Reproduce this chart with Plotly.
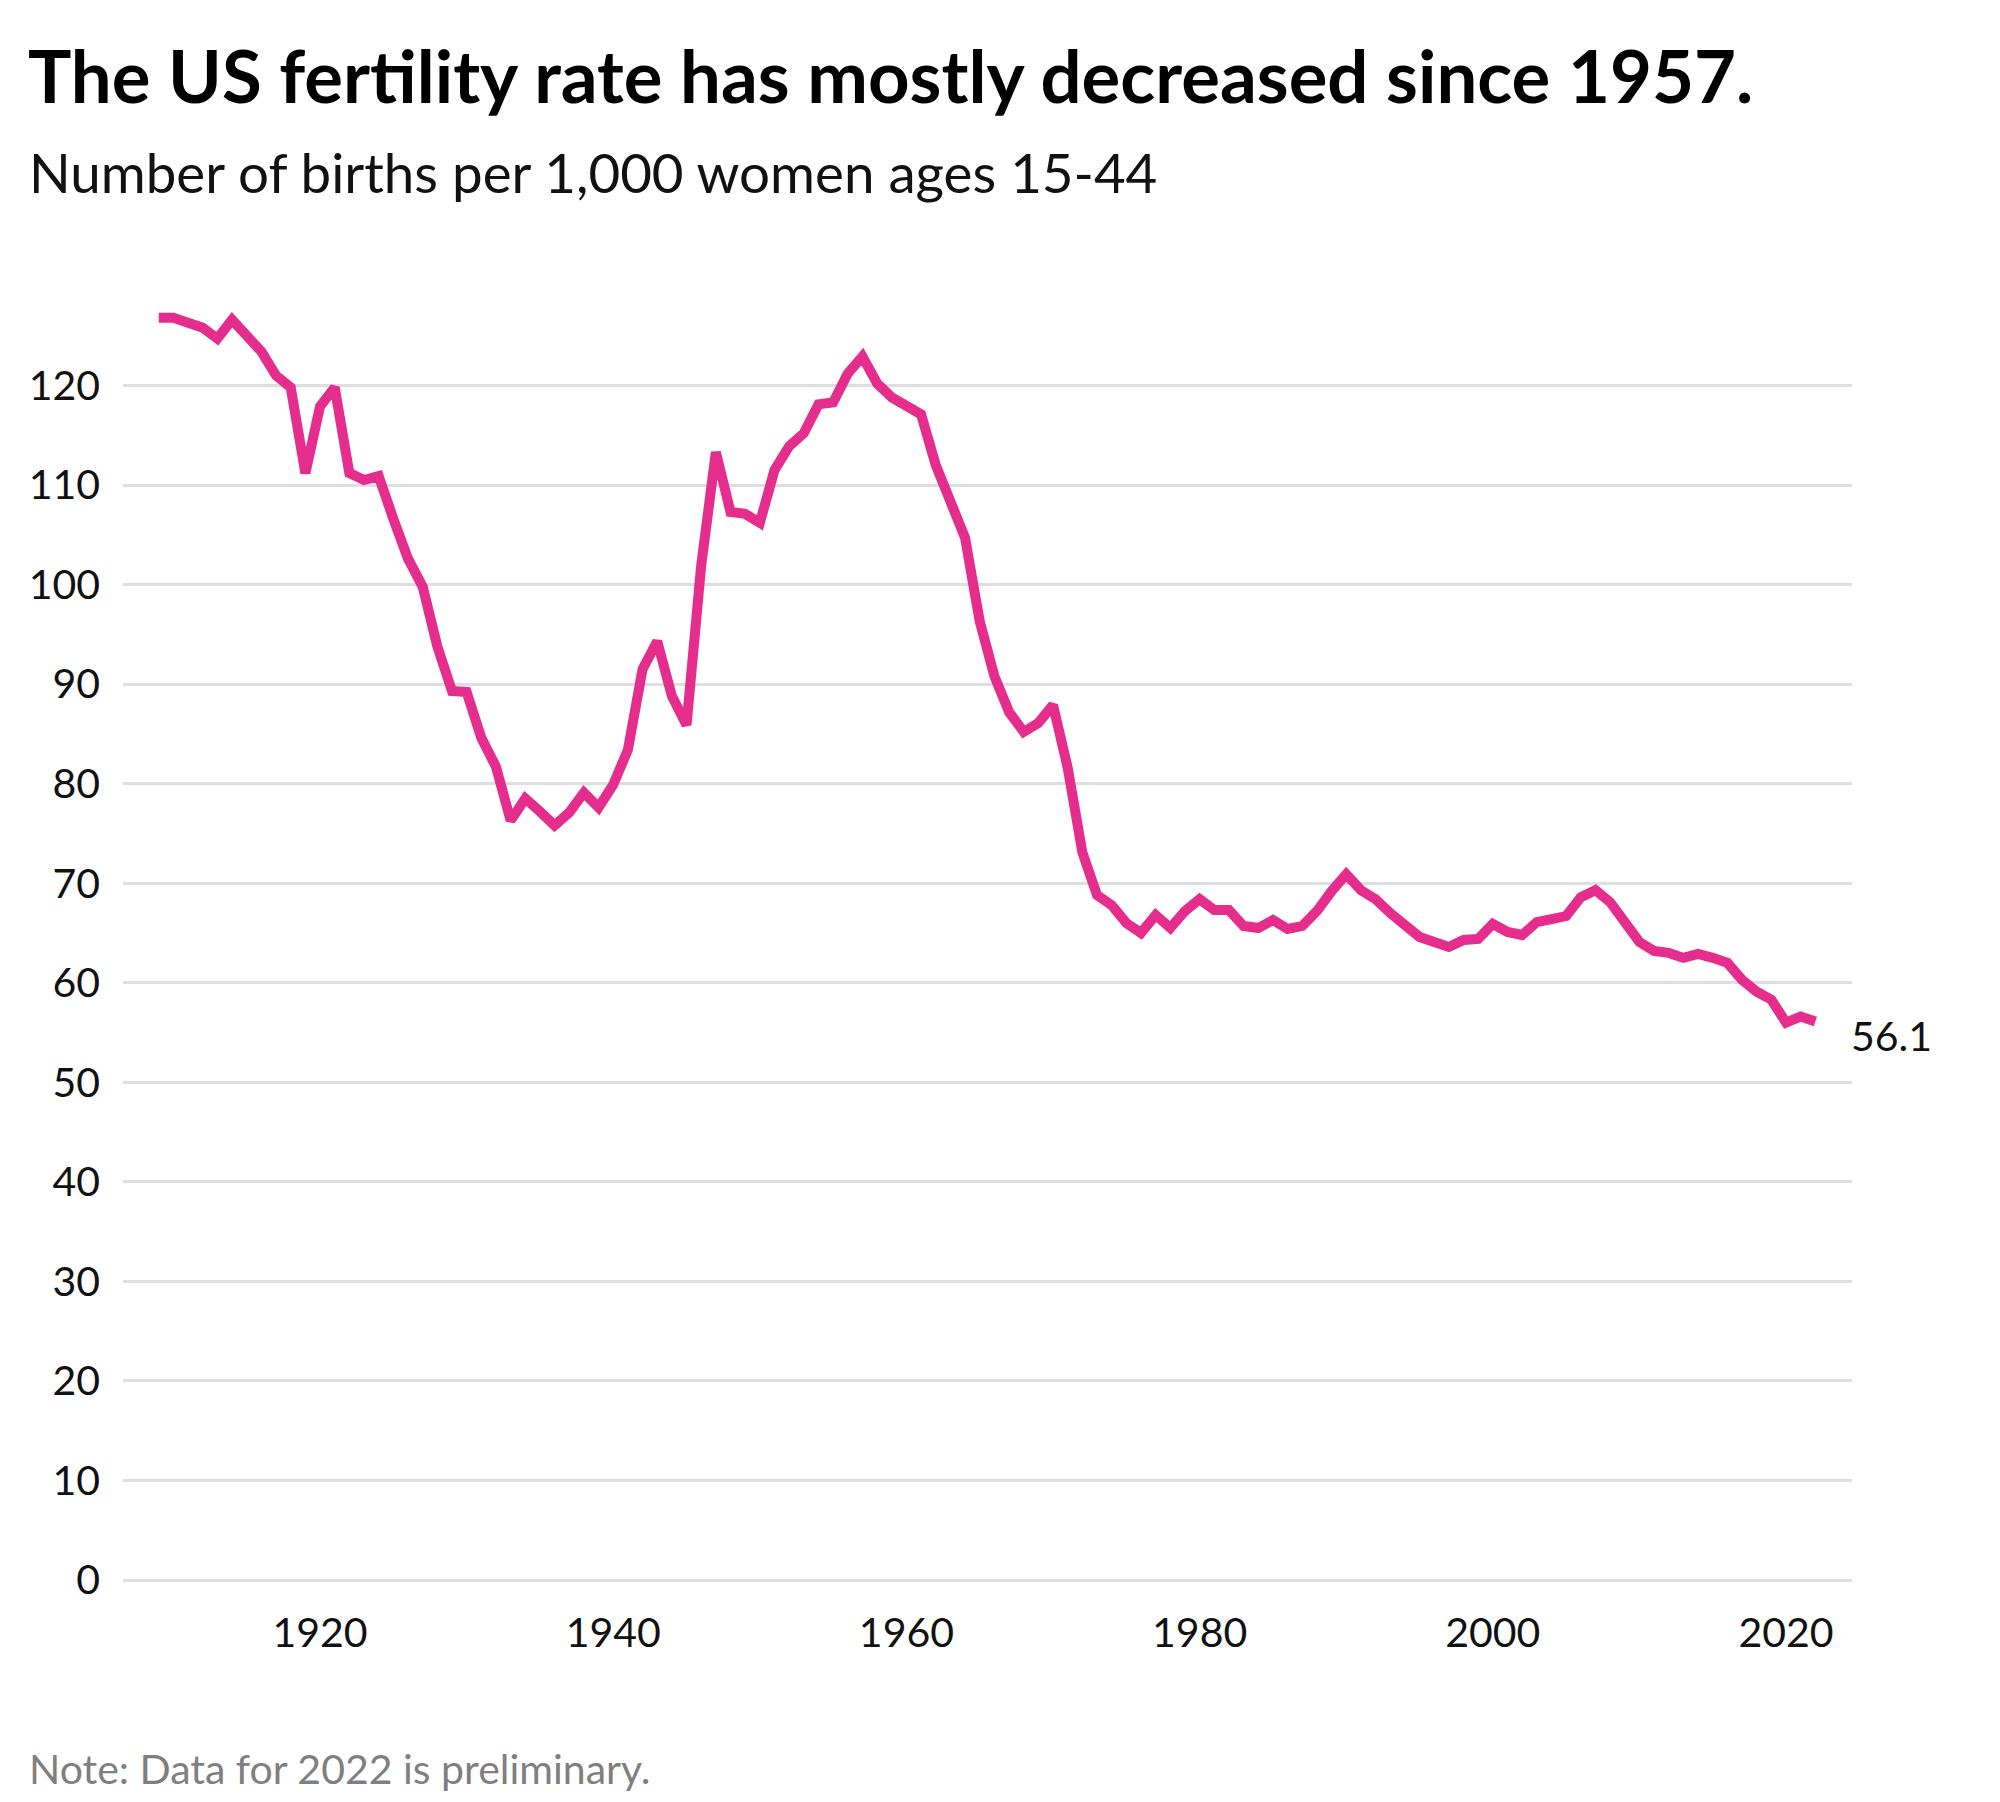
import plotly.graph_objects as go

years = list(range(1909, 2023))
fertility_rate = [
    126.8, 126.8, 126.3, 125.8, 124.7, 126.6, 125.0, 123.4, 121.0, 119.8,  # 1909-1918
    111.2, 117.9, 119.8, 111.2, 110.5, 110.9, 106.6, 102.6, 99.8, 93.8,    # 1919-1928
    89.3, 89.2, 84.6, 81.7, 76.3, 78.5, 77.2, 75.8, 77.1, 79.1,            # 1929-1938
    77.6, 79.9, 83.4, 91.5, 94.3, 88.8, 85.9, 101.9, 113.3, 107.3,         # 1939-1948
    107.1, 106.2, 111.5, 113.9, 115.2, 118.1, 118.3, 121.2, 122.9, 120.2,  # 1949-1958
    118.8, 118.0, 117.1, 112.0, 108.3, 104.7, 96.3, 90.8, 87.2, 85.2,      # 1959-1968
    86.1, 87.9, 81.6, 73.1, 68.8, 67.8, 66.0, 65.0, 66.8, 65.5,            # 1969-1978
    67.2, 68.4, 67.3, 67.3, 65.7, 65.5, 66.3, 65.4, 65.7, 67.2,            # 1979-1988
    69.2, 70.9, 69.3, 68.4, 67.0, 65.9, 64.6, 64.1, 63.6, 64.3,            # 1989-1998
    64.4, 65.9, 65.1, 64.8, 66.1, 66.4, 66.7, 68.6, 69.3, 68.1,            # 1999-2008
    66.2, 64.1, 63.2, 63.0, 62.5, 62.9, 62.5, 62.0, 60.3, 59.1,            # 2009-2018
    58.3, 56.0, 56.6, 56.1,                                                # 2019-2022
]
x_ticks = [1920, 1940, 1960, 1980, 2000, 2020]
y_ticks = list(range(0, 130, 10))

title_text = "The US fertility rate has mostly decreased since 1957."
subtitle_text = "Number of births per 1,000 women ages 15-44"
note_text = "Note: Data for 2022 is preliminary."
end_label = f"{fertility_rate[-1]:.1f}"

W, H = 2000, 1802
ML, MR, MT, MB = 123, 148, 266, 202
PH = H - MT - MB
PW = W - ML - MR


def py(pix):
    return (H - MB - pix) / PH


def px(pix):
    return (pix - ML) / PW


FONT = "Lato"
LINE_COLOR = "#E42D8C"

fig = go.Figure()
fig.add_trace(go.Scatter(
    x=years, y=fertility_rate, mode="lines",
    line=dict(color=LINE_COLOR, width=10),
    hoverinfo="skip", showlegend=False,
))

fig.update_layout(
    width=W, height=H,
    margin=dict(l=ML, r=MR, t=MT, b=MB, autoexpand=False),
    paper_bgcolor="white", plot_bgcolor="white",
    font=dict(family=FONT, color="#111111", size=41),
    title=dict(
        text=f"<b>{title_text}</b>",
        font=dict(family=FONT, size=72.5, color="#000000"),
        x=28 / W, xref="container", xanchor="left",
        y=1 - 78 / H, yref="container", yanchor="middle",
    ),
    xaxis=dict(
        range=[1906.56, 2024.5], tickvals=x_ticks, ticktext=[str(v) for v in x_ticks],
        showgrid=False, zeroline=False, showline=False, ticks="",
        tickfont=dict(family=FONT, size=41, color="#111111"),
        ticklabelstandoff=5,
    ),
    yaxis=dict(
        range=[-2, 132], tickvals=y_ticks, ticktext=[str(v) for v in y_ticks],
        showgrid=True, gridcolor="#DEDEDE", gridwidth=3,
        zeroline=False, showline=False, ticks="",
        tickfont=dict(family=FONT, size=41, color="#111111"),
        ticklabelstandoff=22,
    ),
    annotations=[
        dict(text=subtitle_text, xref="paper", yref="paper",
             x=px(27), y=py(172), xanchor="left", yanchor="middle",
             showarrow=False, font=dict(family=FONT, size=54.7, color="#111111")),
        dict(text=note_text, xref="paper", yref="paper",
             x=px(27), y=py(1768), xanchor="left", yanchor="middle",
             showarrow=False, font=dict(family=FONT, size=41, color="#7F7F7F")),
        dict(text=end_label, x=years[-1], y=fertility_rate[-1], xref="x", yref="y",
             xanchor="left", yanchor="middle", xshift=34, yshift=-14,
             showarrow=False, font=dict(family=FONT, size=41, color="#111111")),
    ],
)

fig.write_html(
    "out.html",
    config={"displayModeBar": False},
    post_script="document.body.style.margin='0';document.body.style.padding='0';",
)
